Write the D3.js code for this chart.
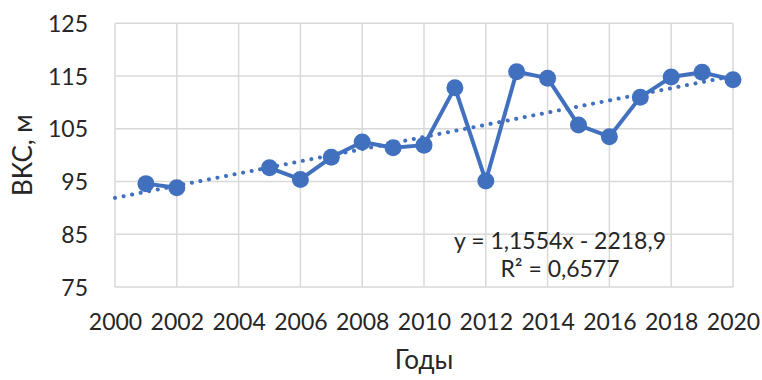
<!DOCTYPE html>
<html>
<head>
<meta charset="utf-8">
<script src="https://cdn.jsdelivr.net/npm/d3@7"></script>
<style>
  html, body { margin: 0; padding: 0; background: #fff; }
  svg text { font-family: Lato, "Open Sans", sans-serif; fill: #262626; }
</style>
</head>
<body>
<svg id="chart" width="762" height="380"></svg>
<script>
// Observed water level by year (null = no observation)
const years = [2001, 2002, 2003, 2004, 2005, 2006, 2007, 2008, 2009, 2010,
               2011, 2012, 2013, 2014, 2015, 2016, 2017, 2018, 2019, 2020];
const levels = [94.6, 93.8, null, null, 97.6, 95.4, 99.6, 102.5, 101.4, 101.9,
                112.8, 95.1, 115.8, 114.6, 105.7, 103.5, 111.0, 114.8, 115.7, 114.3];

// Linear trend y = a*x + b
const trendSlope = 1.1554;
const trendIntercept = -2218.9;
const trendRange = [2000, 2020];
const equationLines = ["y = 1,1554x - 2218,9", "R² = 0,6577"];

const xTicks = [2000, 2002, 2004, 2006, 2008, 2010, 2012, 2014, 2016, 2018, 2020];
const yTicks = [75, 85, 95, 105, 115, 125];
const xTitle = "Годы";
const yTitle = "ВКС, м";

const W = 762, H = 380;
const margin = { top: 23.3, right: 29, bottom: 93, left: 115 };
const svg = d3.select("#chart");

const x = d3.scaleLinear().domain([2000, 2020]).range([margin.left, W - margin.right]);
const y = d3.scaleLinear().domain([75, 125]).range([H - margin.bottom, margin.top]);

const blue = "#4170BF";
const gridColor = "#d9d9d9";

// Gridlines
svg.append("g")
  .selectAll("line.h")
  .data(yTicks)
  .join("line")
  .attr("x1", x(2000)).attr("x2", x(2020))
  .attr("y1", d => y(d)).attr("y2", d => y(d))
  .attr("stroke", gridColor).attr("stroke-width", 1.5);

svg.append("g")
  .selectAll("line.v")
  .data(xTicks)
  .join("line")
  .attr("x1", d => x(d)).attr("x2", d => x(d))
  .attr("y1", y(75)).attr("y2", y(125))
  .attr("stroke", gridColor).attr("stroke-width", 1.5);

// Axes (labels only)
const yAxis = svg.append("g")
  .attr("transform", `translate(${margin.left - 27},0)`)
  .call(d3.axisLeft(y).tickValues(yTicks).tickSize(0).tickPadding(0));
yAxis.select(".domain").remove();
yAxis.selectAll("text")
  .attr("font-size", 23)
  .attr("dy", "0.35em")
  .style("font-family", "Lato, sans-serif")
  .attr("fill", "#262626");

const xAxis = svg.append("g")
  .attr("transform", `translate(0,${y(75)})`)
  .call(d3.axisBottom(x).tickValues(xTicks).tickFormat(d3.format("d")).tickSize(0).tickPadding(27));
xAxis.select(".domain").remove();
xAxis.selectAll("text")
  .attr("font-size", 23)
  .style("font-family", "Lato, sans-serif")
  .attr("fill", "#262626");

// Trend line (dotted)
svg.append("line")
  .attr("x1", x(trendRange[0]))
  .attr("y1", y(trendSlope * trendRange[0] + trendIntercept))
  .attr("x2", x(trendRange[1]))
  .attr("y2", y(trendSlope * trendRange[1] + trendIntercept))
  .attr("stroke", blue)
  .attr("stroke-width", 4)
  .attr("stroke-linecap", "round")
  .attr("stroke-dasharray", "0.1 8.6");

// Data series
const series = years.map((yr, i) => ({ year: yr, value: levels[i] }));
const line = d3.line()
  .defined(d => d.value != null)
  .x(d => x(d.year))
  .y(d => y(d.value));

svg.append("path")
  .datum(series)
  .attr("d", line)
  .attr("fill", "none")
  .attr("stroke", blue)
  .attr("stroke-width", 4)
  .attr("stroke-linejoin", "round");

svg.append("g")
  .selectAll("circle")
  .data(series.filter(d => d.value != null))
  .join("circle")
  .attr("cx", d => x(d.year))
  .attr("cy", d => y(d.value))
  .attr("r", 8.5)
  .attr("fill", blue);

// Trend equation
const eq = svg.append("text")
  .attr("text-anchor", "middle")
  .attr("font-size", 23);
eq.selectAll("tspan")
  .data(equationLines)
  .join("tspan")
  .attr("x", 560)
  .attr("y", (d, i) => 249 + i * 27.5)
  .text(d => d);

// Axis titles
svg.append("text")
  .attr("x", (x(2000) + x(2020)) / 2)
  .attr("y", 369)
  .attr("text-anchor", "middle")
  .attr("font-size", 26)
  .text(xTitle);

svg.append("text")
  .attr("transform", `translate(32,${(y(75) + y(125)) / 2}) rotate(-90)`)
  .attr("text-anchor", "middle")
  .attr("font-size", 26)
  .text(yTitle);
</script>
</body>
</html>
